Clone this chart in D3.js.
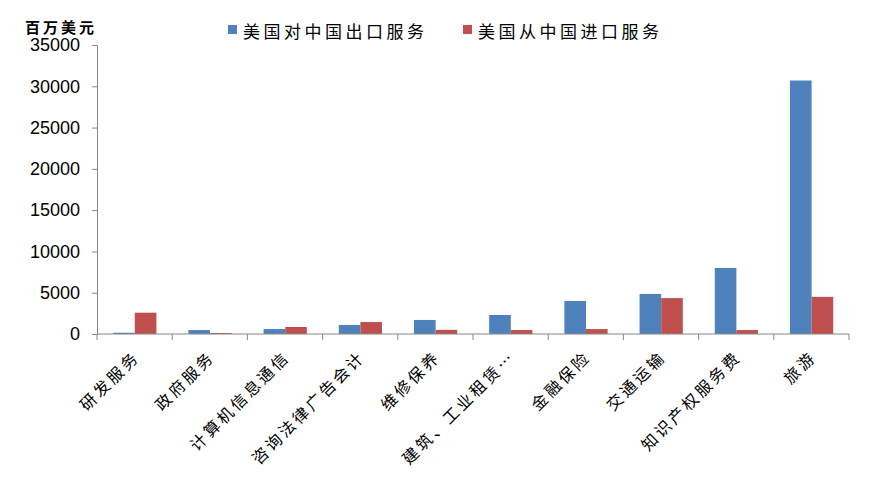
<!DOCTYPE html>
<html lang="zh">
<head>
<meta charset="UTF-8">
<script src="https://d3js.org/d3.v7.min.js"></script>
<style>
  body { margin: 0; background: #fff; }
  svg { display: block; }
  .cjk { font-family: "Noto Sans CJK SC", sans-serif; }
</style>
</head>
<body>
<div id="chart"></div>
<script>
// data (百万美元)
var categories = ["研发服务", "政府服务", "计算机信息通信", "咨询法律广告会计", "维修保养",
  "建筑、工业租赁…", "金融保险", "交通运输", "知识产权服务费", "旅游"];
var exportsToChina = [150, 480, 600, 1100, 1700, 2300, 4000, 4850, 8000, 30700];
var importsFromChina = [2580, 120, 850, 1450, 500, 480, 600, 4350, 480, 4500];
var seriesNames = ["美国对中国出口服务", "美国从中国进口服务"];
var seriesColors = ["#4F81BD", "#C0504D"];
var yTicks = [0, 5000, 10000, 15000, 20000, 25000, 30000, 35000];

var width = 883, height = 479;
var plotLeft = 97, plotRight = 849, plotTop = 45, plotBottom = 334;

var svg = d3.select("#chart").append("svg")
  .attr("width", width)
  .attr("height", height);

svg.append("rect").attr("width", width).attr("height", height).attr("fill", "#fff");

var x = d3.scaleBand().domain(categories).range([plotLeft, plotRight]).padding(0);
var x1 = d3.scaleBand().domain(seriesNames)
  .range([x.bandwidth() * 0.215, x.bandwidth() * 0.79]).padding(0);
var y = d3.scaleLinear().domain([0, 35000]).range([plotBottom, plotTop]);

// y axis
var yAxis = svg.append("g")
  .attr("transform", "translate(" + plotLeft + ",0)")
  .call(d3.axisLeft(y).tickValues(yTicks).tickSize(5).tickPadding(12).tickFormat(d3.format("d")));
yAxis.selectAll("path, line").attr("stroke", "#868686");
yAxis.selectAll("text")
  .attr("font-family", "Liberation Sans, Arial, sans-serif")
  .attr("font-size", 18)
  .attr("fill", "#000");

// bars
var rows = categories.map(function(c, i) {
  return { cat: c, values: [exportsToChina[i], importsFromChina[i]] };
});

var groups = svg.append("g").selectAll("g")
  .data(rows)
  .join("g")
  .attr("transform", function(d) { return "translate(" + x(d.cat) + ",0)"; });

groups.selectAll("rect")
  .data(function(d) { return d.values.map(function(v, j) { return { name: seriesNames[j], v: v, j: j }; }); })
  .join("rect")
  .attr("x", function(d) { return x1(d.name); })
  .attr("width", x1.bandwidth())
  .attr("y", function(d) { return y(d.v); })
  .attr("height", function(d) { return y(0) - y(d.v); })
  .attr("fill", function(d) { return seriesColors[d.j]; });

// x axis, ticks between categories
var xAxis = svg.append("g");
xAxis.append("line")
  .attr("x1", plotLeft).attr("x2", plotRight)
  .attr("y1", y(0)).attr("y2", y(0))
  .attr("stroke", "#868686");
var bounds = categories.map(function(c) { return x(c); }).concat([x.range()[1]]);
xAxis.selectAll(".tk")
  .data(bounds)
  .join("line")
  .attr("class", "tk")
  .attr("x1", function(d) { return d; }).attr("x2", function(d) { return d; })
  .attr("y1", y(0)).attr("y2", y(0) + 6)
  .attr("stroke", "#868686");

xAxis.selectAll(".lbl")
  .data(categories)
  .join("text")
  .attr("class", "lbl cjk")
  .attr("text-anchor", "end")
  .attr("font-size", 16)
  .attr("letter-spacing", 3)
  .attr("fill", "#000")
  .attr("transform", function(d) {
    var cx = x(d) + x.bandwidth() / 2 + 6;
    return "translate(" + cx + "," + (y(0) + 24) + ") rotate(-45)";
  })
  .text(function(d) { return d; });

// unit label
svg.append("text")
  .attr("class", "cjk")
  .attr("x", 25).attr("y", 33)
  .attr("font-size", 15)
  .attr("font-weight", "bold")
  .attr("letter-spacing", 3)
  .text("百万美元");

// legend
var legendX = [228, 463];
var legend = svg.append("g").selectAll("g")
  .data(seriesNames)
  .join("g")
  .attr("transform", function(d, i) { return "translate(" + legendX[i] + ",0)"; });
legend.append("rect")
  .attr("x", 0).attr("y", 25)
  .attr("width", 9).attr("height", 9)
  .attr("fill", function(d, i) { return seriesColors[i]; });
legend.append("text")
  .attr("class", "cjk")
  .attr("x", 15).attr("y", 38)
  .attr("font-size", 17)
  .attr("letter-spacing", 3.5)
  .text(function(d) { return d; });
</script>
</body>
</html>
